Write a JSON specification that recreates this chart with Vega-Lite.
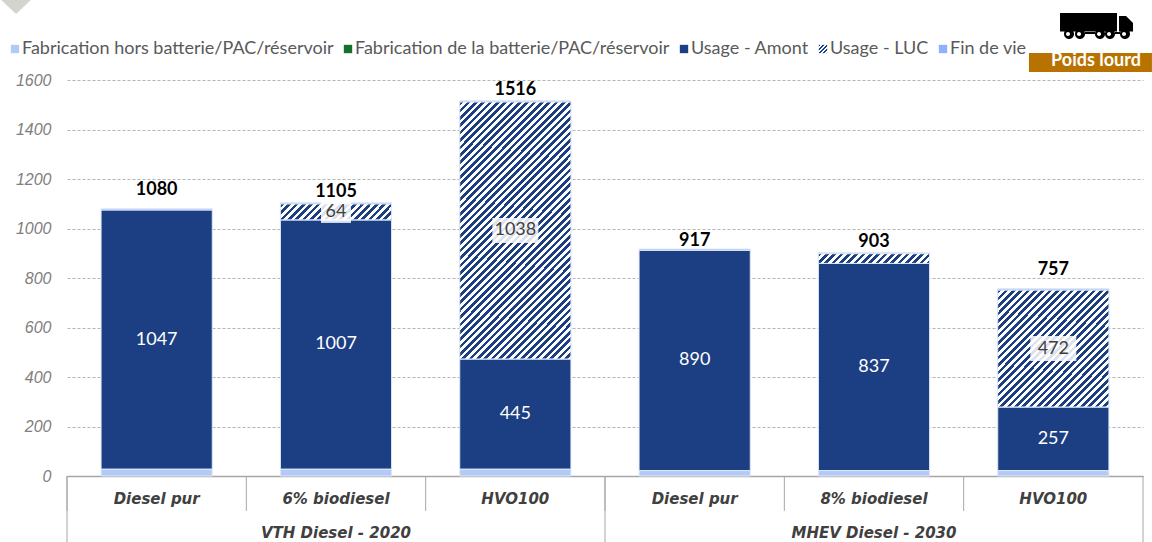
{"$schema":"https://vega.github.io/schema/vega-lite/v6.json","width":1076,"height":396,"autosize":"none","padding":{"left":67,"top":80,"right":9,"bottom":66},"background":"white",
"config":{"font":"Lato","view":{"stroke":null}},
"params":[{"name":"stops","value":[{"offset":0,"color":"#1c3e82"},{"offset":0.01,"color":"#1c3e82"},{"offset":0.01,"color":"#fff"},{"offset":0.02,"color":"#fff"},{"offset":0.02,"color":"#1c3e82"},{"offset":0.03,"color":"#1c3e82"},{"offset":0.03,"color":"#fff"},{"offset":0.04,"color":"#fff"},{"offset":0.04,"color":"#1c3e82"},{"offset":0.05,"color":"#1c3e82"},{"offset":0.05,"color":"#fff"},{"offset":0.06,"color":"#fff"},{"offset":0.06,"color":"#1c3e82"},{"offset":0.07,"color":"#1c3e82"},{"offset":0.07,"color":"#fff"},{"offset":0.08,"color":"#fff"},{"offset":0.08,"color":"#1c3e82"},{"offset":0.09,"color":"#1c3e82"},{"offset":0.09,"color":"#fff"},{"offset":0.1,"color":"#fff"},{"offset":0.1,"color":"#1c3e82"},{"offset":0.11,"color":"#1c3e82"},{"offset":0.11,"color":"#fff"},{"offset":0.12,"color":"#fff"},{"offset":0.12,"color":"#1c3e82"},{"offset":0.13,"color":"#1c3e82"},{"offset":0.13,"color":"#fff"},{"offset":0.14,"color":"#fff"},{"offset":0.14,"color":"#1c3e82"},{"offset":0.15,"color":"#1c3e82"},{"offset":0.15,"color":"#fff"},{"offset":0.16,"color":"#fff"},{"offset":0.16,"color":"#1c3e82"},{"offset":0.17,"color":"#1c3e82"},{"offset":0.17,"color":"#fff"},{"offset":0.18,"color":"#fff"},{"offset":0.18,"color":"#1c3e82"},{"offset":0.19,"color":"#1c3e82"},{"offset":0.19,"color":"#fff"},{"offset":0.2,"color":"#fff"},{"offset":0.2,"color":"#1c3e82"},{"offset":0.21,"color":"#1c3e82"},{"offset":0.21,"color":"#fff"},{"offset":0.22,"color":"#fff"},{"offset":0.22,"color":"#1c3e82"},{"offset":0.23,"color":"#1c3e82"},{"offset":0.23,"color":"#fff"},{"offset":0.24,"color":"#fff"},{"offset":0.24,"color":"#1c3e82"},{"offset":0.25,"color":"#1c3e82"},{"offset":0.25,"color":"#fff"},{"offset":0.26,"color":"#fff"},{"offset":0.26,"color":"#1c3e82"},{"offset":0.27,"color":"#1c3e82"},{"offset":0.27,"color":"#fff"},{"offset":0.28,"color":"#fff"},{"offset":0.28,"color":"#1c3e82"},{"offset":0.29,"color":"#1c3e82"},{"offset":0.29,"color":"#fff"},{"offset":0.3,"color":"#fff"},{"offset":0.3,"color":"#1c3e82"},{"offset":0.31,"color":"#1c3e82"},{"offset":0.31,"color":"#fff"},{"offset":0.32,"color":"#fff"},{"offset":0.32,"color":"#1c3e82"},{"offset":0.33,"color":"#1c3e82"},{"offset":0.33,"color":"#fff"},{"offset":0.34,"color":"#fff"},{"offset":0.34,"color":"#1c3e82"},{"offset":0.35,"color":"#1c3e82"},{"offset":0.35,"color":"#fff"},{"offset":0.36,"color":"#fff"},{"offset":0.36,"color":"#1c3e82"},{"offset":0.37,"color":"#1c3e82"},{"offset":0.37,"color":"#fff"},{"offset":0.38,"color":"#fff"},{"offset":0.38,"color":"#1c3e82"},{"offset":0.39,"color":"#1c3e82"},{"offset":0.39,"color":"#fff"},{"offset":0.4,"color":"#fff"},{"offset":0.4,"color":"#1c3e82"},{"offset":0.41,"color":"#1c3e82"},{"offset":0.41,"color":"#fff"},{"offset":0.42,"color":"#fff"},{"offset":0.42,"color":"#1c3e82"},{"offset":0.43,"color":"#1c3e82"},{"offset":0.43,"color":"#fff"},{"offset":0.44,"color":"#fff"},{"offset":0.44,"color":"#1c3e82"},{"offset":0.45,"color":"#1c3e82"},{"offset":0.45,"color":"#fff"},{"offset":0.46,"color":"#fff"},{"offset":0.46,"color":"#1c3e82"},{"offset":0.47,"color":"#1c3e82"},{"offset":0.47,"color":"#fff"},{"offset":0.48,"color":"#fff"},{"offset":0.48,"color":"#1c3e82"},{"offset":0.49,"color":"#1c3e82"},{"offset":0.49,"color":"#fff"},{"offset":0.5,"color":"#fff"},{"offset":0.5,"color":"#1c3e82"},{"offset":0.51,"color":"#1c3e82"},{"offset":0.51,"color":"#fff"},{"offset":0.52,"color":"#fff"},{"offset":0.52,"color":"#1c3e82"},{"offset":0.53,"color":"#1c3e82"},{"offset":0.53,"color":"#fff"},{"offset":0.54,"color":"#fff"},{"offset":0.54,"color":"#1c3e82"},{"offset":0.55,"color":"#1c3e82"},{"offset":0.55,"color":"#fff"},{"offset":0.56,"color":"#fff"},{"offset":0.56,"color":"#1c3e82"},{"offset":0.57,"color":"#1c3e82"},{"offset":0.57,"color":"#fff"},{"offset":0.58,"color":"#fff"},{"offset":0.58,"color":"#1c3e82"},{"offset":0.59,"color":"#1c3e82"},{"offset":0.59,"color":"#fff"},{"offset":0.6,"color":"#fff"},{"offset":0.6,"color":"#1c3e82"},{"offset":0.61,"color":"#1c3e82"},{"offset":0.61,"color":"#fff"},{"offset":0.62,"color":"#fff"},{"offset":0.62,"color":"#1c3e82"},{"offset":0.63,"color":"#1c3e82"},{"offset":0.63,"color":"#fff"},{"offset":0.64,"color":"#fff"},{"offset":0.64,"color":"#1c3e82"},{"offset":0.65,"color":"#1c3e82"},{"offset":0.65,"color":"#fff"},{"offset":0.66,"color":"#fff"},{"offset":0.66,"color":"#1c3e82"},{"offset":0.67,"color":"#1c3e82"},{"offset":0.67,"color":"#fff"},{"offset":0.68,"color":"#fff"},{"offset":0.68,"color":"#1c3e82"},{"offset":0.69,"color":"#1c3e82"},{"offset":0.69,"color":"#fff"},{"offset":0.7,"color":"#fff"},{"offset":0.7,"color":"#1c3e82"},{"offset":0.71,"color":"#1c3e82"},{"offset":0.71,"color":"#fff"},{"offset":0.72,"color":"#fff"},{"offset":0.72,"color":"#1c3e82"},{"offset":0.73,"color":"#1c3e82"},{"offset":0.73,"color":"#fff"},{"offset":0.74,"color":"#fff"},{"offset":0.74,"color":"#1c3e82"},{"offset":0.75,"color":"#1c3e82"},{"offset":0.75,"color":"#fff"},{"offset":0.76,"color":"#fff"},{"offset":0.76,"color":"#1c3e82"},{"offset":0.77,"color":"#1c3e82"},{"offset":0.77,"color":"#fff"},{"offset":0.78,"color":"#fff"},{"offset":0.78,"color":"#1c3e82"},{"offset":0.79,"color":"#1c3e82"},{"offset":0.79,"color":"#fff"},{"offset":0.8,"color":"#fff"},{"offset":0.8,"color":"#1c3e82"},{"offset":0.81,"color":"#1c3e82"},{"offset":0.81,"color":"#fff"},{"offset":0.82,"color":"#fff"},{"offset":0.82,"color":"#1c3e82"},{"offset":0.83,"color":"#1c3e82"},{"offset":0.83,"color":"#fff"},{"offset":0.84,"color":"#fff"},{"offset":0.84,"color":"#1c3e82"},{"offset":0.85,"color":"#1c3e82"},{"offset":0.85,"color":"#fff"},{"offset":0.86,"color":"#fff"},{"offset":0.86,"color":"#1c3e82"},{"offset":0.87,"color":"#1c3e82"},{"offset":0.87,"color":"#fff"},{"offset":0.88,"color":"#fff"},{"offset":0.88,"color":"#1c3e82"},{"offset":0.89,"color":"#1c3e82"},{"offset":0.89,"color":"#fff"},{"offset":0.9,"color":"#fff"},{"offset":0.9,"color":"#1c3e82"},{"offset":0.91,"color":"#1c3e82"},{"offset":0.91,"color":"#fff"},{"offset":0.92,"color":"#fff"},{"offset":0.92,"color":"#1c3e82"},{"offset":0.93,"color":"#1c3e82"},{"offset":0.93,"color":"#fff"},{"offset":0.94,"color":"#fff"},{"offset":0.94,"color":"#1c3e82"},{"offset":0.95,"color":"#1c3e82"},{"offset":0.95,"color":"#fff"},{"offset":0.96,"color":"#fff"},{"offset":0.96,"color":"#1c3e82"},{"offset":0.97,"color":"#1c3e82"},{"offset":0.97,"color":"#fff"},{"offset":0.98,"color":"#fff"},{"offset":0.98,"color":"#1c3e82"},{"offset":0.99,"color":"#1c3e82"},{"offset":0.99,"color":"#fff"},{"offset":1,"color":"#fff"}]}],
"datasets":{
"rows":[
{"id":"VTH|Diesel pur","serie":"Fabrication hors batterie/PAC/réservoir","ordre":1,"value":28,"label":""},
{"id":"VTH|Diesel pur","serie":"Usage - Amont","ordre":3,"value":1047,"label":"1047"},
{"id":"VTH|Diesel pur","serie":"Fin de vie","ordre":5,"value":5,"label":""},
{"id":"VTH|6% biodiesel","serie":"Fabrication hors batterie/PAC/réservoir","ordre":1,"value":28,"label":""},
{"id":"VTH|6% biodiesel","serie":"Usage - Amont","ordre":3,"value":1007,"label":"1007"},
{"id":"VTH|6% biodiesel","serie":"Usage - LUC","ordre":4,"value":64,"label":"64"},
{"id":"VTH|6% biodiesel","serie":"Fin de vie","ordre":5,"value":6,"label":""},
{"id":"VTH|HVO100","serie":"Fabrication hors batterie/PAC/réservoir","ordre":1,"value":28,"label":""},
{"id":"VTH|HVO100","serie":"Usage - Amont","ordre":3,"value":445,"label":"445"},
{"id":"VTH|HVO100","serie":"Usage - LUC","ordre":4,"value":1038,"label":"1038"},
{"id":"VTH|HVO100","serie":"Fin de vie","ordre":5,"value":5,"label":""},
{"id":"MHEV|Diesel pur","serie":"Fabrication hors batterie/PAC/réservoir","ordre":1,"value":22,"label":""},
{"id":"MHEV|Diesel pur","serie":"Usage - Amont","ordre":3,"value":890,"label":"890"},
{"id":"MHEV|Diesel pur","serie":"Fin de vie","ordre":5,"value":5,"label":""},
{"id":"MHEV|8% biodiesel","serie":"Fabrication hors batterie/PAC/réservoir","ordre":1,"value":22,"label":""},
{"id":"MHEV|8% biodiesel","serie":"Usage - Amont","ordre":3,"value":837,"label":"837"},
{"id":"MHEV|8% biodiesel","serie":"Usage - LUC","ordre":4,"value":39,"label":""},
{"id":"MHEV|8% biodiesel","serie":"Fin de vie","ordre":5,"value":5,"label":""},
{"id":"MHEV|HVO100","serie":"Fabrication hors batterie/PAC/réservoir","ordre":1,"value":22,"label":""},
{"id":"MHEV|HVO100","serie":"Usage - Amont","ordre":3,"value":257,"label":"257"},
{"id":"MHEV|HVO100","serie":"Usage - LUC","ordre":4,"value":472,"label":"472"},
{"id":"MHEV|HVO100","serie":"Fin de vie","ordre":5,"value":6,"label":""}],
"totals":[
{"id":"VTH|Diesel pur","total":1080},{"id":"VTH|6% biodiesel","total":1105},{"id":"VTH|HVO100","total":1516},{"id":"MHEV|Diesel pur","total":917},{"id":"MHEV|8% biodiesel","total":903},{"id":"MHEV|HVO100","total":757}],
"groups":[{"id":"VTH|6% biodiesel","groupe":"VTH Diesel - 2020"},{"id":"MHEV|8% biodiesel","groupe":"MHEV Diesel - 2030"}]
},
"data":{"name":"rows"},
"encoding":{"x":{"field":"id","type":"nominal","sort":null,"scale":{"domain":["VTH|Diesel pur","VTH|6% biodiesel","VTH|HVO100","MHEV|Diesel pur","MHEV|8% biodiesel","MHEV|HVO100"],"paddingInner":0,"paddingOuter":0},"axis":{"title":null,"labelExpr":"split(datum.label,'|')[1]","labelAngle":0,"ticks":false,"domainColor":"#a6a6a6","domainWidth":1.5,"labelPadding":22,"labelFont":"DejaVu Sans","labelFontStyle":"italic","labelFontWeight":"bold","labelFontSize":15,"labelColor":"#404040","labelBaseline":"middle","grid":false}}},
"layer":[
{"transform":[{"stack":"value","groupby":["id"],"sort":[{"field":"ordre"}],"as":["y0","y1"]}],
"mark":{"type":"bar","width":{"band":0.62},"stroke":"#dfe8f8","strokeWidth":1},
"encoding":{"y":{"field":"y0","type":"quantitative","scale":{"domain":[0,1600],"nice":false},"axis":{"title":null,"format":"d","values":[0,200,400,600,800,1000,1200,1400,1600],"domain":false,"ticks":false,"grid":true,"gridColor":"#b5b5b5","gridDash":[3,2],"gridWidth":1,"labelPadding":16,"labelFont":"Liberation Sans","labelFontStyle":"italic","labelFontSize":16,"labelColor":"#7f7f7f"}},"y2":{"field":"y1"},
"color":{"field":"serie","type":"nominal","scale":{"domain":["Fabrication hors batterie/PAC/réservoir","Fabrication de la batterie/PAC/réservoir","Usage - Amont","Usage - LUC","Fin de vie"],"range":["#b4caf6","#14702a","#1c3e82",{"signal":"{gradient:'linear',x1:0,y1:0,x2:12,y2:12,stops:stops}"},"#8fb0fc"]},
"legend":{"title":null,"orient":"none","legendX":-61,"legendY":-40,"direction":"horizontal","columns":5,"gridAlign":"none","columnPadding":5,"symbolType":"square","symbolSize":70,"symbolStrokeWidth":0,"labelOffset":-2,"labelFont":"Lato","labelFontSize":18,"labelColor":"#595959","labelLimit":400,"padding":0}}}},
{"transform":[{"stack":"value","groupby":["id"],"sort":[{"field":"ordre"}],"as":["y0","y1"]},{"filter":"datum.serie=='Usage - LUC'&&datum.id=='VTH|HVO100'"}],
"mark":{"type":"bar","width":{"band":0.62},"stroke":"#dfe8f8","strokeWidth":1,"fill":{"expr":"{gradient:'linear',x1:0,y1:0,x2:0.5258,y2:1.2066,stops:stops}"}},"encoding":{"y":{"field":"y0","type":"quantitative"},"y2":{"field":"y1"}}},
{"transform":[{"stack":"value","groupby":["id"],"sort":[{"field":"ordre"}],"as":["y0","y1"]},{"filter":"datum.serie=='Usage - LUC'&&datum.id=='MHEV|HVO100'"}],
"mark":{"type":"bar","width":{"band":0.62},"stroke":"#dfe8f8","strokeWidth":1,"fill":{"expr":"{gradient:'linear',x1:0,y1:0,x2:1.578,y2:1.646,stops:stops}"}},"encoding":{"y":{"field":"y0","type":"quantitative"},"y2":{"field":"y1"}}},
{"transform":[{"stack":"value","groupby":["id"],"sort":[{"field":"ordre"}],"as":["y0","y1"]},{"filter":"datum.serie=='Usage - LUC'&&datum.id=='VTH|6% biodiesel'"}],
"mark":{"type":"bar","width":{"band":0.62},"stroke":"#dfe8f8","strokeWidth":1,"fill":{"expr":"{gradient:'linear',x1:0,y1:0,x2:3.23,y2:0.4568,stops:stops}"}},"encoding":{"y":{"field":"y0","type":"quantitative"},"y2":{"field":"y1"}}},
{"transform":[{"stack":"value","groupby":["id"],"sort":[{"field":"ordre"}],"as":["y0","y1"]},{"filter":"datum.serie=='Usage - LUC'&&datum.id=='MHEV|8% biodiesel'"}],
"mark":{"type":"bar","width":{"band":0.62},"stroke":"#dfe8f8","strokeWidth":1,"fill":{"expr":"{gradient:'linear',x1:0,y1:0,x2:3.27,y2:0.2818,stops:stops}"}},"encoding":{"y":{"field":"y0","type":"quantitative"},"y2":{"field":"y1"}}},
{"mark":{"type":"point","filled":true,"fill":"white","stroke":null,"size":4,"shape":"M-23 -12.5H23V12.5H-23Z"},
"encoding":{"y":{"field":"value","type":"quantitative","stack":"zero","bandPosition":0.5},"detail":{"field":"serie"},"order":{"field":"ordre"},"opacity":{"condition":{"test":"datum.label=='1038'||datum.label=='472'","value":0.85},"value":0}}},
{"mark":{"type":"point","filled":true,"fill":"white","stroke":null,"size":4,"shape":"M-15 -11H15V11H-15Z"},
"encoding":{"y":{"field":"value","type":"quantitative","stack":"zero","bandPosition":0.5},"detail":{"field":"serie"},"order":{"field":"ordre"},"opacity":{"condition":{"test":"datum.label=='64'","value":0.85},"value":0}}},
{"mark":{"type":"text","font":"Lato","fontSize":18,"align":"center","baseline":"middle"},
"encoding":{"y":{"field":"value","type":"quantitative","stack":"zero","bandPosition":0.5},"detail":{"field":"serie"},"order":{"field":"ordre"},"text":{"field":"label","type":"nominal"},"color":{"condition":{"test":"datum.serie=='Usage - LUC'","value":"#404040"},"value":"white"}}},
{"data":{"name":"totals"},"transform":[{"filter":"datum.total==1516||datum.total==1105||datum.total==903"}],"mark":{"type":"text","font":"Lato","fontWeight":"bold","fontSize":18,"color":"black","baseline":"bottom","dy":-2},
"encoding":{"y":{"field":"total","type":"quantitative"},"text":{"field":"total","type":"quantitative","format":"d"}}},
{"data":{"name":"totals"},"transform":[{"filter":"datum.total==1080||datum.total==757"}],"mark":{"type":"text","font":"Lato","fontWeight":"bold","fontSize":18,"color":"black","baseline":"bottom","dy":-10},
"encoding":{"y":{"field":"total","type":"quantitative"},"text":{"field":"total","type":"quantitative","format":"d"}}},
{"data":{"name":"totals"},"transform":[{"filter":"datum.total==917"}],"mark":{"type":"text","font":"Lato","fontWeight":"bold","fontSize":18,"color":"black","baseline":"bottom","dy":1},
"encoding":{"y":{"field":"total","type":"quantitative"},"text":{"field":"total","type":"quantitative","format":"d"}}},
{"data":{"name":"totals"},"mark":{"type":"rule","color":"#a6a6a6","strokeWidth":1},
"encoding":{"x":{"field":"id","type":"nominal","bandPosition":0},"y":{"datum":0},"y2":{"datum":-141}}},
{"data":{"name":"groups"},"mark":{"type":"text","font":"DejaVu Sans","fontStyle":"italic","fontWeight":"bold","fontSize":15,"color":"#404040","baseline":"middle"},
"encoding":{"y":{"datum":-232},"text":{"field":"groupe"}}},
{"data":{"values":[{"id":"VTH|Diesel pur"},{"id":"MHEV|Diesel pur"}]},"mark":{"type":"rule","color":"#a6a6a6","strokeWidth":1},
"encoding":{"x":{"field":"id","type":"nominal","bandPosition":0},"y":{"datum":0},"y2":{"datum":-270}}},
{"data":{"values":[{"id":"MHEV|HVO100"}]},"mark":{"type":"rule","color":"#a6a6a6","strokeWidth":1},
"encoding":{"x":{"field":"id","type":"nominal","bandPosition":1},"y":{"datum":0},"y2":{"datum":-270}}},
{"data":{"values":[{"id":"MHEV|HVO100"}]},"mark":{"type":"point","filled":true,"fill":"#b87200","stroke":null,"opacity":1,"size":4,"shape":"M-61.5 -9.5H61.5V9.5H-61.5Z"},
"encoding":{"x":{"field":"id","type":"nominal","bandPosition":0.707},"y":{"datum":1671}}},
{"data":{"values":[{"id":"MHEV|HVO100","badge":"Poids lourd"}]},"mark":{"type":"text","font":"Lato","fontWeight":"bold","fontSize":18,"color":"white","baseline":"middle"},
"encoding":{"x":{"field":"id","type":"nominal","bandPosition":0.738},"y":{"datum":1677},"text":{"field":"badge"}}},
{"data":{"values":[{"id":"MHEV|HVO100"}]},"mark":{"type":"point","filled":true,"fill":"black","stroke":null,"opacity":1,"size":4,"shape":"M-36 -11H21V7.5H-36ZM23 -8H30L37 -1V7.5H23ZM-32 10a5 5 0 1 1 10 0a5 5 0 1 1 -10 0ZM-30 10a2 2 0 1 0 4 0a2 2 0 1 0 -4 0ZM-21 10a5 5 0 1 1 10 0a5 5 0 1 1 -10 0ZM-19 10a2 2 0 1 0 4 0a2 2 0 1 0 -4 0ZM-1 10a5 5 0 1 1 10 0a5 5 0 1 1 -10 0ZM1 10a2 2 0 1 0 4 0a2 2 0 1 0 -4 0ZM9 10a5 5 0 1 1 10 0a5 5 0 1 1 -10 0ZM11 10a2 2 0 1 0 4 0a2 2 0 1 0 -4 0ZM24 10a5 5 0 1 1 10 0a5 5 0 1 1 -10 0ZM26 10a2 2 0 1 0 4 0a2 2 0 1 0 -4 0ZM-11 8H-1V10H-11ZM19 8H24V10H19Z"},
"encoding":{"x":{"field":"id","type":"nominal","bandPosition":0.738},"y":{"datum":1826}}},
{"data":{"values":[{"id":"VTH|Diesel pur"}]},"mark":{"type":"point","filled":true,"fill":"#d4d3cd","stroke":null,"opacity":1,"size":4,"shape":"M-17 -16H17L0 0Z"},
"encoding":{"x":{"field":"id","type":"nominal","bandPosition":-0.284},"y":{"datum":1867}}}
]}
